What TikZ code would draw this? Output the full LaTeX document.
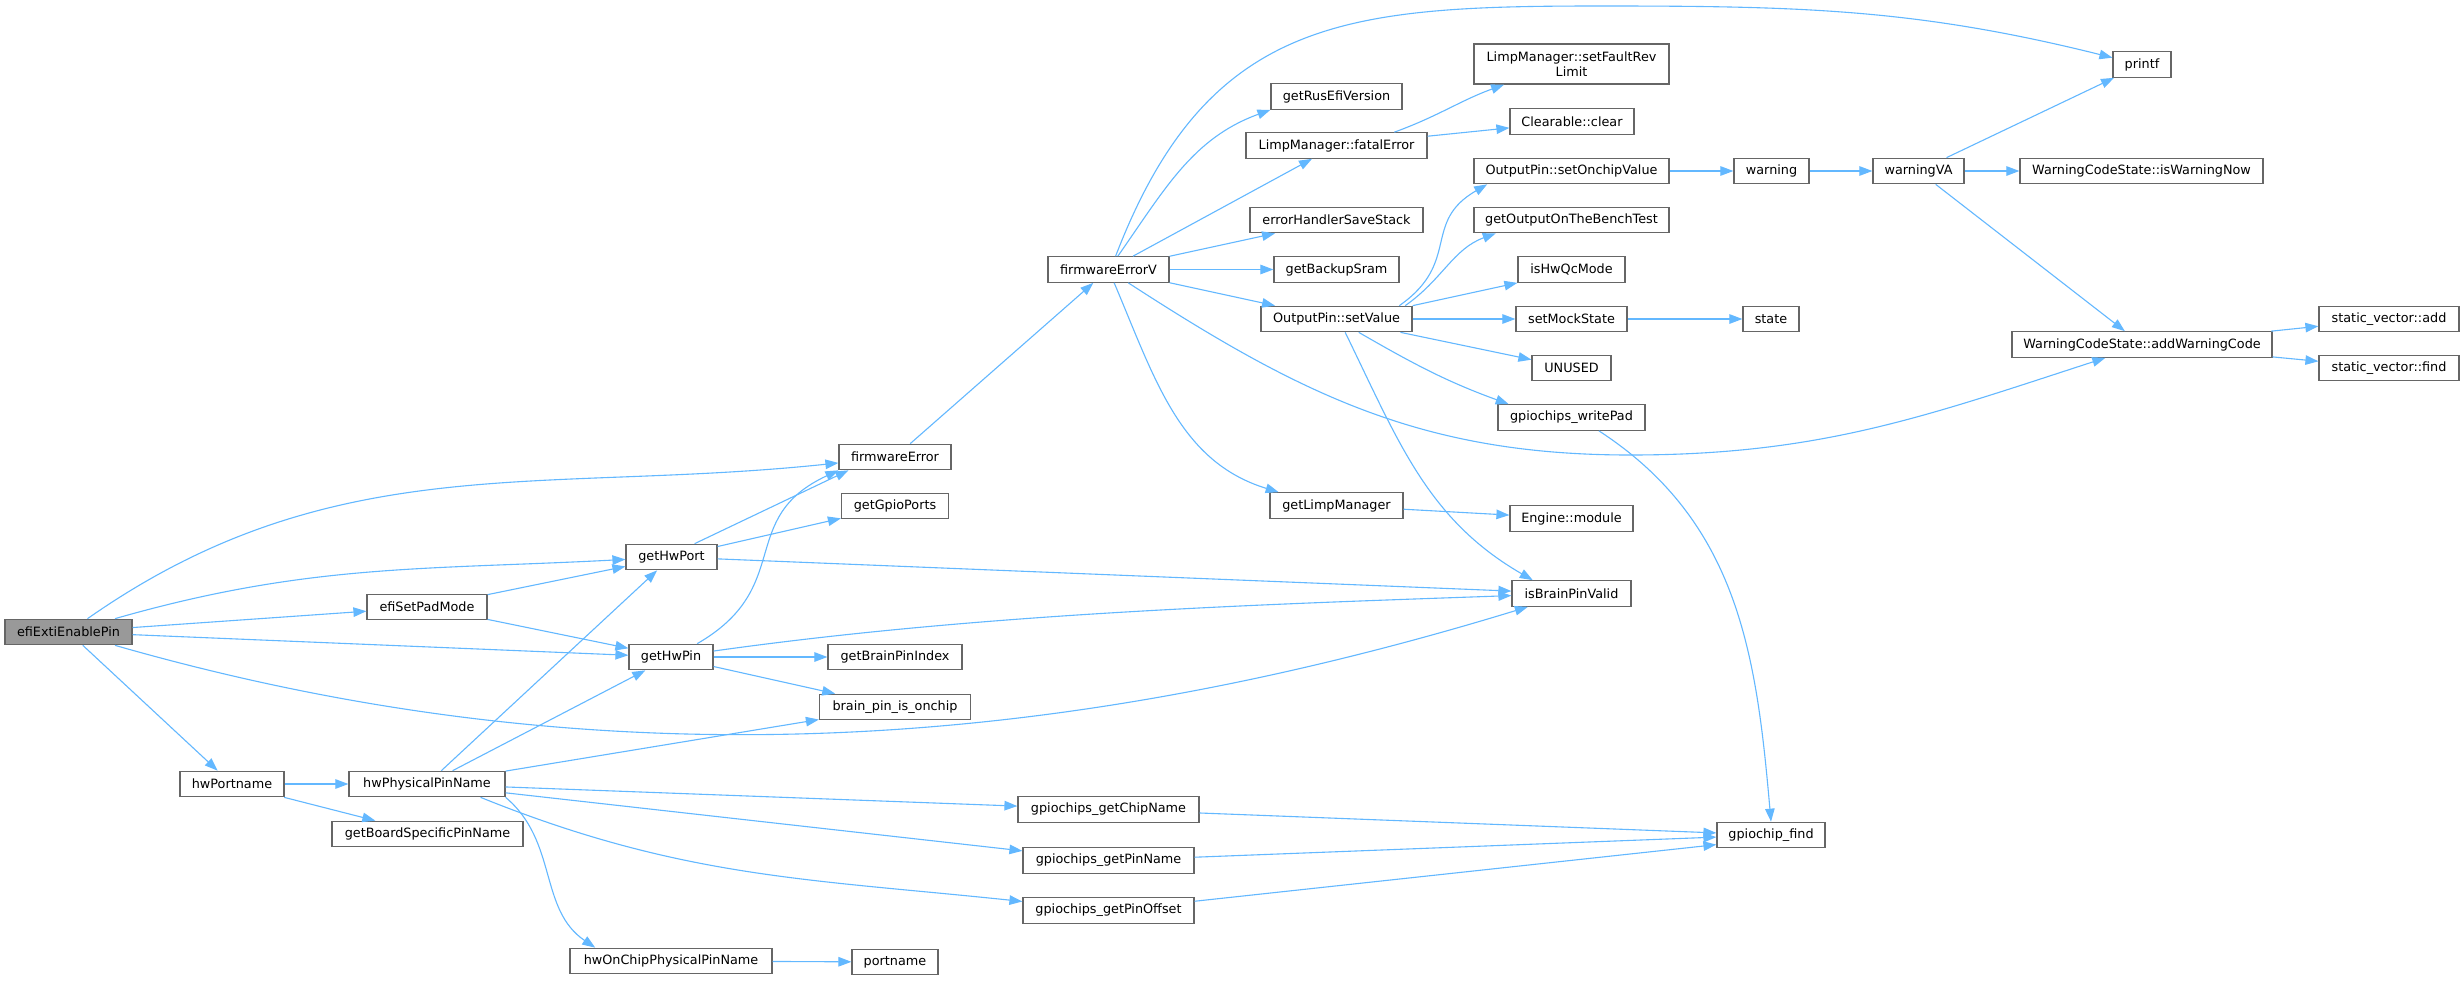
\documentclass[tikz,border=0pt]{standalone}
\usepackage{fontspec}
\setmainfont{DejaVu Sans}
\usetikzlibrary{arrows.meta}
\definecolor{edgeblue}{HTML}{63B8FF}
\definecolor{nodeline}{HTML}{666666}
\definecolor{rootgray}{HTML}{999999}
\tikzset{
  fn/.style={draw=nodeline, fill=white, line width=1.2pt, inner sep=2pt,
    minimum height=25.5pt, minimum width=#1,
    font=\fontsize{12.8pt}{14.7pt}\selectfont},
  root/.style={fn=#1, fill=rootgray},
  callarrow/.style={draw=edgeblue, line width=1.1pt, -{Triangle[length=13pt,width=9.5pt,fill=edgeblue]}}
}

\begin{document}
\begin{tikzpicture}[x=1pt,y=1pt]
\fill[white] (0,0) rectangle (2464,-980);
\useasboundingbox (0,0) rectangle (2464,-980);
\node[root=127pt] (efi) at (68.5,-632) {efiExtiEnablePin};
\node[fn=120pt] (setpad) at (427,-607) {efiSetPadMode};
\node[fn=104pt] (hwportname) at (232,-784) {hwPortname};
\node[fn=156pt] (hwphys) at (427,-784) {hwPhysicalPinName};
\node[fn=191pt] (board) at (427.5,-834) {getBoardSpecificPinName};
\node[fn=202pt] (onchip) at (671,-961) {hwOnChipPhysicalPinName};
\node[fn=86pt] (port) at (895,-962) {portname};
\node[fn=91pt] (hwport) at (671.5,-557) {getHwPort};
\node[fn=84pt] (hwpin) at (671,-657) {getHwPin};
\node[fn=112pt] (fwerr) at (895,-457) {firmwareError};
\node[fn=107pt] (gpioports) at (895,-506) {getGpioPorts};
\node[fn=134pt] (brainidx) at (895,-657) {getBrainPinIndex};
\node[fn=151pt] (isonchip) at (895,-707) {brain\_pin\_is\_onchip};
\node[fn=181pt] (chipname) at (1108.5,-809.5) {gpiochips\_getChipName};
\node[fn=171pt] (pinname) at (1108.5,-860.5) {gpiochips\_getPinName};
\node[fn=171pt] (pinoffset) at (1108.5,-910.5) {gpiochips\_getPinOffset};
\node[fn=121pt] (fwerrv) at (1108.5,-269.5) {firmwareErrorV};
\node[fn=131pt] (rusefi) at (1336.5,-96.5) {getRusEfiVersion};
\node[fn=181pt] (fatal) at (1336.5,-145.5) {LimpManager::fatalError};
\node[fn=173pt] (savestack) at (1336.5,-220) {errorHandlerSaveStack};
\node[fn=125pt] (sram) at (1336.5,-269.5) {getBackupSram};
\node[fn=151pt] (setvalue) at (1336.5,-319) {OutputPin::setValue};
\node[fn=133pt] (limp) at (1336.5,-505.5) {getLimpManager};
\node[fn=195pt, minimum height=40pt, align=center] (revlimit) at (1571.5,-64) {LimpManager::setFaultRev\\Limit};
\node[fn=124pt] (clear) at (1572,-121.5) {Clearable::clear};
\node[fn=195pt] (onchipval) at (1571.5,-171) {OutputPin::setOnchipValue};
\node[fn=195pt] (bench) at (1571.5,-220) {getOutputOnTheBenchTest};
\node[fn=107pt] (hwqc) at (1571.5,-269.5) {isHwQcMode};
\node[fn=111pt] (mock) at (1571.5,-319) {setMockState};
\node[fn=79pt] (unused) at (1571.5,-368) {UNUSED};
\node[fn=147pt] (writepad) at (1571.5,-417.5) {gpiochips\_writePad};
\node[fn=123pt] (module) at (1571.5,-518.5) {Engine::module};
\node[fn=119pt] (valid) at (1571.5,-593.5) {isBrainPinValid};
\node[fn=75pt] (warning) at (1771.5,-171) {warning};
\node[fn=56pt] (state) at (1771,-319) {state};
\node[fn=108pt] (find) at (1771,-835) {gpiochip\_find};
\node[fn=91pt] (warnva) at (1918.5,-171) {warningVA};
\node[fn=58pt] (printf) at (2142,-64.5) {printf};
\node[fn=243pt] (isnow) at (2141.5,-171) {WarningCodeState::isWarningNow};
\node[fn=260pt] (addcode) at (2142,-344.5) {WarningCodeState::addWarningCode};
\node[fn=140pt] (vadd) at (2389,-319) {static\_vector::add};
\node[fn=140pt] (vfind) at (2389,-368) {static\_vector::find};
\draw[callarrow] (efi) to[out=35,in=186] (fwerr);
\draw[callarrow] (efi) to[out=16,in=183] (hwport);
\draw[callarrow] (efi) -- (setpad);
\draw[callarrow] (efi) -- (hwpin);
\draw[callarrow] (efi) .. controls +(-16:555) and +(-163:540) .. (valid);
\draw[callarrow] (efi) -- (hwportname);
\draw[callarrow] (setpad) -- (hwport);
\draw[callarrow] (setpad) -- (hwpin);
\draw[callarrow] (hwportname) -- (hwphys);
\draw[callarrow] (hwportname) -- (board);
\draw[callarrow] (hwphys) -- (hwport);
\draw[callarrow] (hwphys) -- (hwpin);
\draw[callarrow] (hwphys) -- (isonchip);
\draw[callarrow] (hwphys) -- (chipname);
\draw[callarrow] (hwphys) -- (pinname);
\draw[callarrow] (hwphys.-14) to[out=-22,in=174] (pinoffset);
\draw[callarrow] (hwphys.south east) to[out=-40,in=146] (onchip.170);
\draw[callarrow] (onchip) -- (port);
\draw[callarrow] (hwport.30) -- (fwerr.-164);
\draw[callarrow] (hwport) -- (gpioports);
\draw[callarrow] (hwport) -- (valid);
\draw[callarrow] (hwpin.27) to[out=30,in=205,looseness=1.3] (fwerr.south west);
\draw[callarrow] (hwpin) .. controls +(8:314) and +(182:314) .. (valid);
\draw[callarrow] (hwpin) -- (brainidx);
\draw[callarrow] (hwpin) -- (isonchip);
\draw[callarrow] (fwerr) -- (fwerrv);
\draw[callarrow] (fwerrv.62) to[out=69,in=180,looseness=1.2] (1600,-6) to[out=0,in=166] (printf.167);
\draw[callarrow] (fwerrv) to[out=55,in=200] (rusefi.south west);
\draw[callarrow] (fwerrv) -- (fatal);
\draw[callarrow] (fwerrv) -- (savestack);
\draw[callarrow] (fwerrv) -- (sram);
\draw[callarrow] (fwerrv) -- (setvalue);
\draw[callarrow] (fwerrv) to[out=-67,in=163] (limp.167);
\draw[callarrow] (fwerrv.-34) to[out=-33,in=180] (1630,-455) to[out=0,in=198] (addcode.-160);
\draw[callarrow] (fatal.13) to[out=20,in=-160] (revlimit.-163);
\draw[callarrow] (fatal) -- (clear);
\draw[callarrow] (setvalue.12) to[out=35,in=-150,looseness=1.3] (onchipval.-171);
\draw[callarrow] (setvalue.11) to[out=35,in=-160] (bench.-170);
\draw[callarrow] (setvalue.north east) -- (hwqc.south west);
\draw[callarrow] (setvalue) -- (mock);
\draw[callarrow] (setvalue) -- (unused);
\draw[callarrow] (setvalue.-31) to[out=-30,in=160] (writepad.168);
\draw[callarrow] (setvalue.-57) to[out=-64,in=150] (valid.161);
\draw[callarrow] (limp) -- (module);
\draw[callarrow] (onchipval) -- (warning);
\draw[callarrow] (warning) -- (warnva);
\draw[callarrow] (warnva) -- (printf);
\draw[callarrow] (warnva) -- (isnow);
\draw[callarrow] (warnva) -- (addcode);
\draw[callarrow] (mock) -- (state);
\draw[callarrow] (writepad.-26) to[out=-33,in=95] (find.north);
\draw[callarrow] (chipname) -- (find);
\draw[callarrow] (pinname) -- (find);
\draw[callarrow] (pinoffset) -- (find.-170);
\draw[callarrow] (addcode) -- (vadd);
\draw[callarrow] (addcode) -- (vfind);
\end{tikzpicture}
\end{document}
